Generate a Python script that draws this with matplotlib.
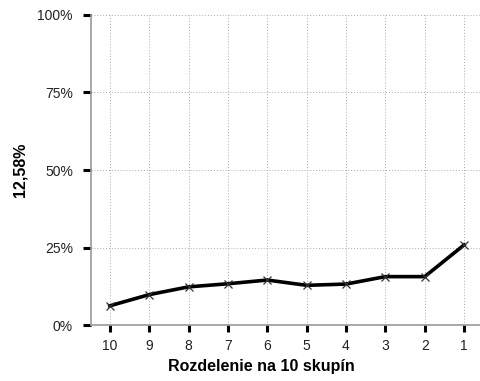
import numpy as np
import matplotlib
matplotlib.use("Agg")
import matplotlib.pyplot as plt
from matplotlib.ticker import PercentFormatter

# dati
skupiny = ["10", "9", "8", "7", "6", "5", "4", "3", "2", "1"]
hodnoty = [6.3, 9.9, 12.4, 13.4, 14.6, 12.9, 13.3, 15.7, 15.7, 25.9]
y_ticks = [0, 25, 50, 75, 100]

plt.rcParams["font.family"] = ["Liberation Sans", "DejaVu Sans"]

fig = plt.figure(figsize=(4.81, 3.81), dpi=100)
ax = fig.add_axes([0.189, 0.146, 0.811, 0.815])

x = np.arange(len(skupiny))
ax.plot(x, hodnoty, color="black", linewidth=2.6, marker="x",
        markersize=6, markeredgecolor="#333333", markeredgewidth=0.9, zorder=3)

ax.set_xlim(-0.48, 9.43)
ax.set_ylim(0, 100)
ax.set_xticks(x)
ax.set_xticklabels(skupiny)
ax.set_yticks(y_ticks)
ax.yaxis.set_major_formatter(PercentFormatter(decimals=0))

ax.grid(True, color="#aaaaaa", linestyle=(0, (1, 2)), linewidth=0.7)
ax.set_axisbelow(True)

for s in ["top", "right"]:
    ax.spines[s].set_visible(False)
ax.spines["left"].set_color("#999999")
ax.spines["bottom"].set_color("#999999")
ax.spines["left"].set_linewidth(1.2)
ax.spines["bottom"].set_linewidth(1.2)

ax.tick_params(axis="y", length=6, width=2.2, color="black", pad=7,
               labelsize=10, labelcolor="#222222")
ax.tick_params(axis="x", length=5, width=2.2, color="black", pad=5,
               labelsize=10, labelcolor="#222222")

ax.set_xlabel("Rozdelenie na 10 skupín", fontsize=11.5, fontweight="bold", va="center")
ax.xaxis.set_label_coords(0.438, -0.131)
ax.set_ylabel("12,58%", fontsize=11.5, fontweight="bold", labelpad=7)

fig.savefig("out.png", dpi=100)
